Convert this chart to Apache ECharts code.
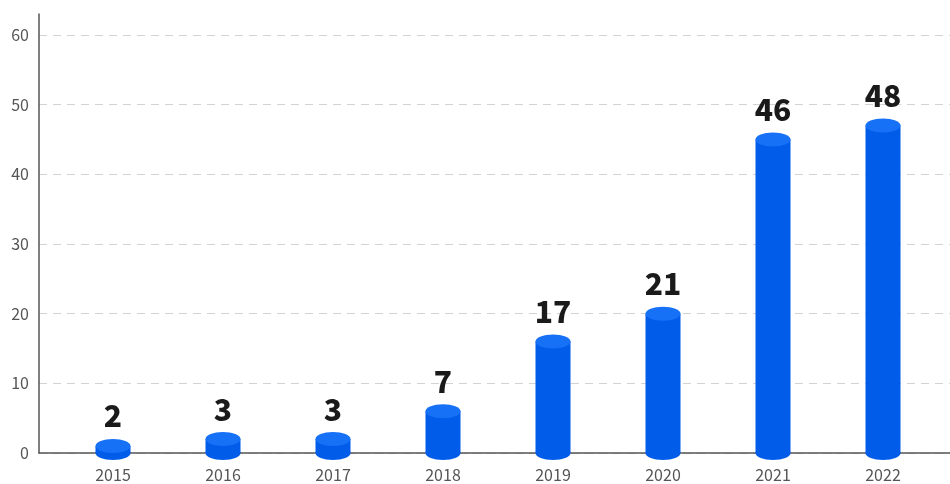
<!DOCTYPE html>
<html>
<head>
<meta charset="utf-8">
<script src="https://cdn.jsdelivr.net/npm/echarts@6/dist/echarts.min.js"></script>
<style>html,body{margin:0;padding:0;background:#fff}#c{width:950px;height:484px}</style>
</head>
<body>
<div id="c"></div>
<script>
const categories = ['2015', '2016', '2017', '2018', '2019', '2020', '2021', '2022'];
const values = [2, 3, 3, 7, 17, 21, 46, 48];
const yTicks = [0, 10, 20, 30, 40, 50, 60];

const FONT = '"Noto Sans CJK KR", "Noto Sans", sans-serif';
const BAR_W = 35;
const CAP_H = 14;

const chart = echarts.init(document.getElementById('c'));
chart.setOption({
  animation: false,
  backgroundColor: '#fff',
  grid: [
    { left: 39, right: 0, top: 14, bottom: 31 },
    { left: 58, right: 12, top: 14, bottom: 31 }
  ],
  xAxis: [
    { gridIndex: 0, type: 'value', min: 0, max: 1,
      axisLine: { show: true, onZero: false, lineStyle: { color: '#555', width: 1.5 } },
      axisTick: { show: false }, axisLabel: { show: false }, splitLine: { show: false } },
    { gridIndex: 1, type: 'category', data: categories,
      axisLine: { show: false }, axisTick: { show: false },
      axisLabel: { color: '#555', fontSize: 16, fontFamily: FONT, margin: 14 } }
  ],
  yAxis: [
    { gridIndex: 0, type: 'value', min: 0, max: 63, interval: 10,
      axisLine: { show: true, lineStyle: { color: '#555', width: 1.5 } },
      axisTick: { show: false },
      axisLabel: { color: '#555', fontSize: 16, fontFamily: FONT, margin: 10, showMaxLabel: false,
        formatter: v => (yTicks.indexOf(v) >= 0 ? String(v) : '') },
      splitLine: { show: true, lineStyle: { type: [8, 6], width: 1,
        color: ['#d2d2d2', '#d2d2d2', '#d2d2d2', '#d2d2d2', '#d2d2d2', '#d2d2d2', '#d2d2d2', 'rgba(0,0,0,0)'] } } },
    { gridIndex: 1, type: 'value', min: 0, max: 63, show: false }
  ],
  series: [
    {
      type: 'custom',
      xAxisIndex: 1, yAxisIndex: 1,
      data: values.map((v, i) => [i, v]),
      renderItem: function (params, api) {
        const top = api.coord([api.value(0), api.value(1)]);
        const base = api.coord([api.value(0), 0]);
        const cx = top[0];
        const ry = CAP_H / 2;
        const rx = BAR_W / 2;
        const capY = top[1] + ry;
        const bodyTop = Math.min(capY, base[1]);
        return {
          type: 'group',
          children: [
            { type: 'ellipse', shape: { cx: cx, cy: base[1], rx: rx, ry: ry }, style: { fill: '#005ce9' } },
            { type: 'rect', shape: { x: cx - rx, y: bodyTop, width: BAR_W, height: Math.max(0, base[1] - bodyTop) }, style: { fill: '#005ce9' } },
            { type: 'ellipse', shape: { cx: cx, cy: capY, rx: rx, ry: ry }, style: { fill: '#1771f6' } }
          ]
        };
      },
      z: 3
    },
    {
      type: 'bar',
      xAxisIndex: 1, yAxisIndex: 1,
      data: values,
      barWidth: BAR_W,
      itemStyle: { color: 'rgba(0,0,0,0)' },
      label: { show: true, position: 'top', distance: 8, color: '#1a1a1a',
        fontSize: 30, fontWeight: 900, fontFamily: FONT },
      z: 4
    }
  ]
});
</script>
</body>
</html>
